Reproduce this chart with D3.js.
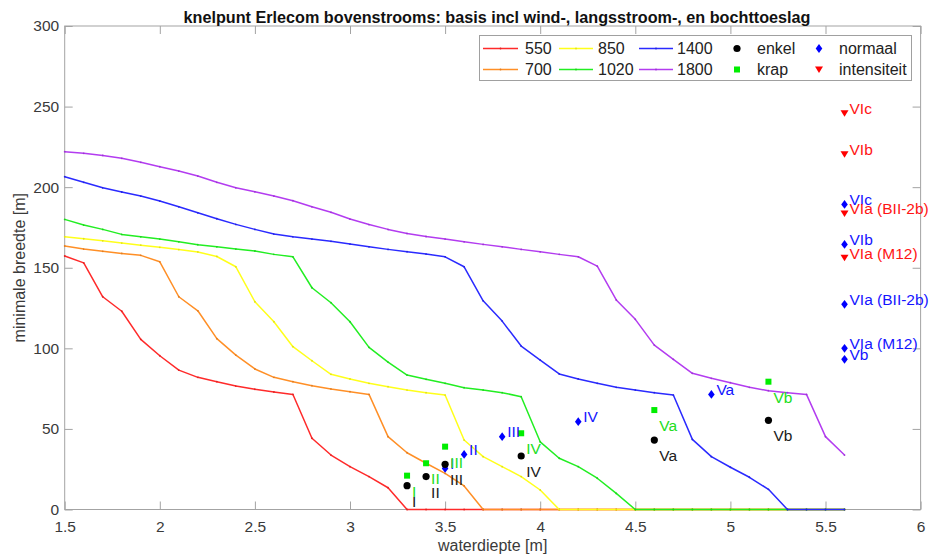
<!DOCTYPE html>
<html>
<head>
<meta charset="utf-8">
<script src="https://cdn.jsdelivr.net/npm/d3@7"></script>
<style>
  html, body { margin: 0; padding: 0; background: #fff; }
  svg { display: block; font-family: "Liberation Sans", Arial, sans-serif; }
</style>
</head>
<body>
<svg id="chart" width="932" height="558"></svg>
<script>
// water depth (m) at which each width curve is evaluated
const depths = [1.5,1.6,1.7,1.8,1.9,2.0,2.1,2.2,2.3,2.4,2.5,2.6,2.7,2.8,2.9,3.0,3.1,3.2,3.3,3.4,3.5,
                3.6,3.7,3.8,3.9,4.0,4.1,4.2,4.3,4.4,4.5,4.6,4.7,4.8,4.9,5.0,5.1,5.2,5.3,5.4,5.5,5.6];

// minimum width (m) per discharge curve
const w550  = [157.3,153,132,123,105.6,95.4,86.5,82,79.3,76.6,74.6,72.9,71.4,44.2,33.8,26.6,20.4,13.5,0,0,0,
               0,0,0,0,0,0,0,0,0,0,0,0,0,0,0,0,0,0,0,0,0];
const w700  = [163.5,161.6,160.2,158.9,157.7,153.7,132,123.3,106,95.8,87.2,82,79.3,76.8,74.8,73.1,71.4,45.2,35.2,28.7,22.4,
               14.6,0,0,0,0,0,0,0,0,0,0,0,0,0,0,0,0,0,0,0,0];
const w850  = [169.2,168,166.7,165.3,164,162.7,161.3,159.8,157,150.6,128.9,116.5,101,92.3,83.9,81,78.3,76.2,74.1,72.5,71,
               43.1,32.8,26.6,20.4,12.1,0,0,0,0,0,0,0,0,0,0,0,0,0,0,0,0];
const w1020 = [180,176.5,173.8,170.7,169.2,167.8,166.1,164.3,163,161.6,160.4,158.3,156.8,137.6,128.3,116.5,100.6,91.5,83.4,80.8,78.3,
               75.6,74.1,72.5,70,42,31.8,26.6,19.4,10,0,0,0,0,0,0,0,0,0,0,0,0];
const w1400 = [206.5,203,199.6,197,194.5,191.4,187.8,184.1,180.4,176.9,173.8,170.9,169.2,167.8,166.4,164.7,163,161.4,160,158.5,156.8,
               150.6,129.5,116.9,101.4,92.7,84.1,81,78.3,75.8,74.1,72.5,71,43.5,32.8,26.2,20,12.5,0,0,0,0];
const w1800 = [222,221,219.7,217.9,215.4,212.7,210,206.9,203,199.6,197.1,194.5,191.6,187.8,184.4,180.2,176.8,173.8,171.3,169.4,167.8,
               166.1,164.5,163,161.4,159.9,158.3,156.8,151,130,118,102,93.2,84.5,81.4,78.7,75.8,73.7,72.5,71.4,45.2,33.8];

const curveNames  = ["550","700","850","1020","1400","1800"];
const curveValues = [w550, w700, w850, w1020, w1400, w1800];
const curveColors = ["#ff2a2a","#ff8f26","#ffff1a","#22ee22","#2a2aff","#b33cf0"];

// scenario points
const enkelX = [3.3,3.4,3.5,3.9,4.6,5.2];
const enkelY = [14.8,20.4,28,33.2,43.1,55.3];
const enkelLabels = ["I","II","III","IV","Va","Vb"];

const krapX = [3.3,3.4,3.5,3.9,4.6,5.2];
const krapY = [21,28.7,39,47.3,61.7,79.3];
const krapLabels = ["I","II","III","IV","Va","Vb"];

const normaalX = [3.5,3.6,3.8,4.2,4.9,5.6,5.6,5.6,5.6,5.6];
const normaalY = [25.5,34.2,45.2,54.5,71.4,93.2,100,127.3,164.5,189.3];
const normaalLabels = ["I","II","III","IV","Va","Vb","VIa (M12)","VIa (BII-2b)","VIb","VIc"];

const intensX = [5.6,5.6,5.6,5.6];
const intensY = [246,220.5,183.7,156.2];
const intensLabels = ["VIc","VIb","VIa (BII-2b)","VIa (M12)"];

const xTicks = [1.5,2,2.5,3,3.5,4,4.5,5,5.5,6];
const yTicks = [0,50,100,150,200,250,300];

const titleText = "knelpunt Erlecom bovenstrooms: basis incl wind-, langsstroom-, en bochttoeslag";
const xLabel = "waterdiepte [m]";
const yLabel = "minimale breedte [m]";

// ---- layout ----
const svg = d3.select("#chart");
const L = 64.7, R = 920.6, T = 26, B = 509.5;
const x = d3.scaleLinear().domain([1.5, 6]).range([L, R]);
const y = d3.scaleLinear().domain([0, 300]).range([B, T]);
const axisGray = "#a3a3a3";
const tickText = "#3a3a3a";

// axes (ticks pointing inward on all four sides)
const gx = svg.append("g").attr("transform", `translate(0,${B})`)
  .call(d3.axisBottom(x).tickValues(xTicks).tickSizeInner(-8).tickSizeOuter(0).tickPadding(11.5)
        .tickFormat(d3.format("")));
const gy = svg.append("g").attr("transform", `translate(${L},0)`)
  .call(d3.axisLeft(y).tickValues(yTicks).tickSizeInner(-8).tickSizeOuter(0).tickPadding(5.5));
const gt = svg.append("g").attr("transform", `translate(0,${T})`)
  .call(d3.axisTop(x).tickValues(xTicks).tickSizeInner(-8).tickSizeOuter(0).tickFormat(""));
const gr = svg.append("g").attr("transform", `translate(${R},0)`)
  .call(d3.axisRight(y).tickValues(yTicks).tickSizeInner(-8).tickSizeOuter(0).tickFormat(""));
[gx, gy, gt, gr].forEach(g => {
  g.select(".domain").remove();
  g.selectAll(".tick line").attr("stroke", axisGray).attr("stroke-width", 1);
  g.selectAll(".tick text").attr("fill", tickText).style("font-size", "15.5px")
    .style("font-family", '"Liberation Sans", Arial, sans-serif');
});
svg.append("rect").attr("x", L).attr("y", T).attr("width", R - L).attr("height", B - T)
  .attr("fill", "none").attr("stroke", axisGray).attr("stroke-width", 1);

// curves: paths first, then the point dots of every curve
const line = d3.line().x((d, i) => x(depths[i])).y(d => y(d));
const curves = svg.append("g");
curveValues.forEach((vals, k) => {
  curves.append("path").datum(vals).attr("d", line)
    .attr("fill", "none").attr("stroke", curveColors[k]).attr("stroke-width", 1.5)
    .attr("stroke-linejoin", "round");
  curves.selectAll(null).data(vals).enter().append("circle")
    .attr("cx", (d, i) => x(depths[i])).attr("cy", d => y(d)).attr("r", 0.9)
    .attr("fill", d3.color(curveColors[k]).darker(0.35));
});

// markers
const diamondPath = "M0,-4.4L3.3,0L0,4.4L-3.3,0Z";
const trianglePath = "M-4,-2.9L4,-2.9L0,3.6Z";
const marks = svg.append("g");
function drawDiamond(g, cx, cy) { g.append("path").attr("d", diamondPath).attr("transform", `translate(${cx},${cy})`).attr("fill", "#0000ff"); }
function drawTriangle(g, cx, cy) { g.append("path").attr("d", trianglePath).attr("transform", `translate(${cx},${cy})`).attr("fill", "#ff0000"); }
function drawSquare(g, cx, cy) { g.append("rect").attr("x", cx - 3).attr("y", cy - 3).attr("width", 6).attr("height", 6).attr("fill", "#00ee00"); }
function drawCircle(g, cx, cy) { g.append("circle").attr("cx", cx).attr("cy", cy).attr("r", 3.6).attr("fill", "#000"); }

normaalX.forEach((v, i) => drawDiamond(marks, x(v), y(normaalY[i])));
intensX.forEach((v, i) => drawTriangle(marks, x(v), y(intensY[i])));
krapX.forEach((v, i) => drawSquare(marks, x(v), y(krapY[i])));
enkelX.forEach((v, i) => drawCircle(marks, x(v), y(enkelY[i])));

// point labels
const labels = svg.append("g").style("font-size", "15.5px");
function addLabels(xs, ys, texts, dy, color) {
  labels.selectAll(null).data(texts).enter().append("text")
    .attr("x", (d, i) => x(xs[i]) + 5)
    .attr("y", (d, i) => y(ys[i] + dy))
    .attr("dy", "0.36em")
    .attr("fill", color)
    .text(d => d);
}
addLabels(normaalX, normaalY, normaalLabels, 3, "#1414ff");
addLabels(intensX, intensY, intensLabels, 3, "#ff1414");
addLabels(krapX, krapY, krapLabels, -9.5, "#22dd22");
addLabels(enkelX, enkelY, enkelLabels, -9.5, "#202020");

// title and axis labels
svg.append("text").attr("x", 497).attr("y", 22.5).attr("text-anchor", "middle")
  .style("font-weight", "bold").style("font-size", "16.2px").attr("fill", "#111").text(titleText);
svg.append("text").attr("x", (L + R) / 2).attr("y", 551).attr("text-anchor", "middle")
  .style("font-size", "16px").attr("fill", tickText).text(xLabel);
svg.append("text").attr("transform", `translate(25,${(T + B) / 2}) rotate(-90)`).attr("text-anchor", "middle")
  .style("font-size", "16px").attr("fill", tickText).text(yLabel);

// legend
const lg = svg.append("g");
lg.append("rect").attr("x", 479.5).attr("y", 35.5).attr("width", 432).attr("height", 45)
  .attr("fill", "#fff").attr("stroke", "#a0a0a0").attr("stroke-width", 1);
const rowY = [48.5, 69.5];
const lineCols = [{x0: 483, x1: 518, tx: 525}, {x0: 559, x1: 593, tx: 598}, {x0: 639, x1: 673, tx: 677}];
curveNames.forEach((name, k) => {
  const c = lineCols[Math.floor(k / 2)], ry = rowY[k % 2];
  lg.append("line").attr("x1", c.x0).attr("x2", c.x1).attr("y1", ry).attr("y2", ry)
    .attr("stroke", curveColors[k]).attr("stroke-width", 1.5);
  lg.append("circle").attr("cx", (c.x0 + c.x1) / 2).attr("cy", ry).attr("r", 0.9)
    .attr("fill", d3.color(curveColors[k]).darker(0.35));
  lg.append("text").attr("x", c.tx).attr("y", ry).attr("dy", "0.36em")
    .style("font-size", "16px").attr("fill", "#222").text(name);
});
const pointEntries = [
  {name: "enkel", draw: drawCircle, col: 0},
  {name: "krap", draw: drawSquare, col: 0},
  {name: "normaal", draw: drawDiamond, col: 1},
  {name: "intensiteit", draw: drawTriangle, col: 1}
];
const markCols = [{mx: 737, tx: 757}, {mx: 819, tx: 839}];
pointEntries.forEach((e, k) => {
  const c = markCols[e.col], ry = rowY[k % 2];
  e.draw(lg, c.mx, ry);
  lg.append("text").attr("x", c.tx).attr("y", ry).attr("dy", "0.36em")
    .style("font-size", "16px").attr("fill", "#222").text(e.name);
});
</script>
</body>
</html>
